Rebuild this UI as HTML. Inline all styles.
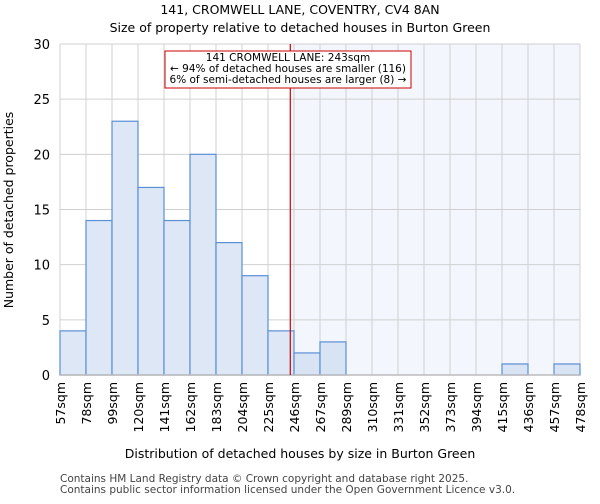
<!DOCTYPE html>
<html><head><meta charset="utf-8"><style>
body{margin:0;background:#fff;font-family:"DejaVu Sans","Liberation Sans",sans-serif;}
</style></head><body>
<svg width="600" height="500" xmlns="http://www.w3.org/2000/svg" id="chart" font-family="DejaVu Sans, Liberation Sans, sans-serif">
<text x="300" y="14" text-anchor="middle" font-size="12.5">141, CROMWELL LANE, COVENTRY, CV4 8AN</text>
<text x="300" y="32" text-anchor="middle" font-size="12.5">Size of property relative to detached houses in Burton Green</text>
<g id="plot"></g>
<text x="300" y="458" text-anchor="middle" font-size="12.5">Distribution of detached houses by size in Burton Green</text>
<text transform="translate(13,210) rotate(-90)" text-anchor="middle" font-size="12.5">Number of detached properties</text>
<text x="60" y="482" font-size="10.5" fill="#444">Contains HM Land Registry data © Crown copyright and database right 2025.</text>
<text x="60" y="493" font-size="10.5" fill="#444">Contains public sector information licensed under the Open Government Licence v3.0.</text>
</svg>
<script>
const binLabels=["57sqm","78sqm","99sqm","120sqm","141sqm","162sqm","183sqm","204sqm","225sqm","246sqm","267sqm","289sqm","310sqm","331sqm","352sqm","373sqm","394sqm","415sqm","436sqm","457sqm","478sqm"];
const counts=[4,14,23,17,14,20,12,9,4,2,3,0,0,0,0,0,0,1,0,1];
const yTicks=[0,5,10,15,20,25,30];
const markerValue=243;
const markerBin=8; // 225-246 bin
const binEdges=[57,78,99,120,141,162,183,204,225,246];
const X0=60,X1=580,Y0=375,Y1=44;
const bw=(X1-X0)/counts.length;
const xs=i=>X0+i*bw;
const ys=v=>Y0-(v/30)*(Y0-Y1);
const NS="http://www.w3.org/2000/svg";
const g=document.getElementById('plot');
function mk(t,a){const e=document.createElementNS(NS,t);for(const k in a)e.setAttribute(k,a[k]);g.appendChild(e);return e;}
const mx=xs(markerBin+(markerValue-binEdges[markerBin])/(binEdges[markerBin+1]-binEdges[markerBin]));
let r=mk('rect',{x:mx,y:Y1,width:X1-mx,height:Y0-Y1,fill:'#f3f6fd'});


for(let i=0;i<=counts.length;i++){let l=mk('line',{x1:xs(i),x2:xs(i),y1:Y1,y2:Y0,stroke:'#d0d0d0','stroke-width':1});

}
yTicks.forEach(t=>{let l=mk('line',{x1:X0,x2:X1,y1:ys(t),y2:ys(t),stroke:'#d0d0d0','stroke-width':1});


let tx=mk('text',{x:X0-10,y:ys(t)+5,'text-anchor':'end','font-size':13});tx.textContent=t;

});
counts.forEach((c,i)=>{if(c<=0)return;let b=mk('rect',{x:xs(i),y:ys(c),width:bw,height:Y0-ys(c),fill:i>markerBin?'#d8e3f3':'#dde7f5',stroke:'#5b8fd6','stroke-width':1.2});

});
binLabels.forEach((s,i)=>{let tx=mk('text',{transform:`translate(${xs(i)+5},382) rotate(-90)`,'text-anchor':'end','font-size':12.5});tx.textContent=s;

});
let ax=mk('line',{x1:X0,x2:X1,y1:Y0,y2:Y0,stroke:'#bbb','stroke-width':1.5});


let ml=mk('line',{x1:mx,x2:mx,y1:Y1,y2:Y0,stroke:'#cc0000','stroke-width':1.2});


let bx=mk('rect',{x:165,y:51,width:246,height:37,fill:'#fff',stroke:'#cc0000','stroke-width':1});


[["141 CROMWELL LANE: 243sqm",61],["← 94% of detached houses are smaller (116)",72],["6% of semi-detached houses are larger (8) →",83]].forEach(([s,y],k)=>{let tx=mk('text',{x:288,y:y,'text-anchor':'middle','font-size':10.5});tx.textContent=s;

});
</script>
</body></html>
